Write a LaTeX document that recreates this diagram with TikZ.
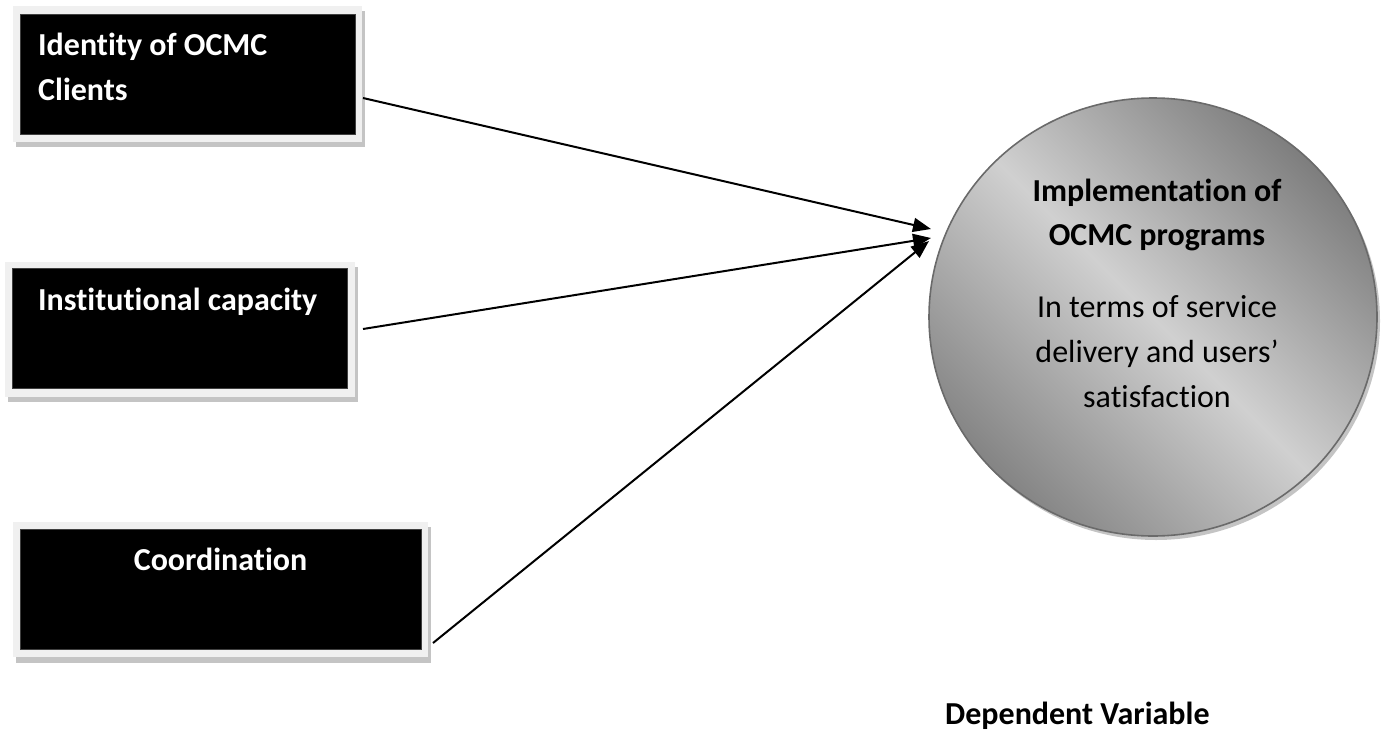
\documentclass[tikz,border=0pt]{standalone}
\usepackage{fontspec}
\setmainfont{Carlito}[Ligatures=NoCommon]
\usetikzlibrary{shapes.geometric,arrows.meta}
\definecolor{frameGray}{HTML}{F0F0F0}
\definecolor{shadowGray}{HTML}{C4C4C4}
\definecolor{darkShade}{HTML}{7E7E7E}
\definecolor{lightShade}{HTML}{D0D0D0}
\definecolor{rimGray}{HTML}{6A6A6A}
\begin{document}
\begin{tikzpicture}[x=1pt,y=-1pt,
  boxtext/.style={text=white,inner sep=0pt,font=\fontsize{32}{38}\selectfont\bfseries},
  blackbox/.style={rectangle,fill=black,draw=black!75,line width=0.6pt,inner sep=0pt},
  circtitle/.style={inner sep=0pt,anchor=base,font=\fontsize{32}{38}\selectfont\bfseries},
  circtext/.style={inner sep=0pt,anchor=base,font=\fontsize{32}{38}\selectfont},
  conn/.style={line width=2pt,-{Triangle[length=18pt,width=14pt]}}
]
\useasboundingbox (0,0) rectangle (1383,731);

% ---- box 1
\fill[shadowGray] (16,11) rectangle (365,147);
\fill[frameGray] (13,6) rectangle (362,142);
\node[blackbox,minimum width=335pt,minimum height=120pt] (b1) at (187.5,74) {};
\node[boxtext,anchor=base west] (l1a) at (38,55) {Identity of OCMC};
\node[boxtext,anchor=base west] (l1b) at (38,100) {Clients};

% ---- box 2
\fill[shadowGray] (8,267) rectangle (358,402);
\fill[frameGray] (5,262) rectangle (355,397);
\node[blackbox,minimum width=335pt,minimum height=120pt] (b2) at (179.5,328) {};
\node[boxtext,anchor=base west] (l2a) at (38,310) {Institutional capacity};

% ---- box 3
\fill[shadowGray] (16,527) rectangle (431,663);
\fill[frameGray] (13,522) rectangle (428,657);
\node[blackbox,minimum width=401pt,minimum height=120pt] (b3) at (220.5,589) {};
\node[boxtext,anchor=base] (l3a) at (220.5,570) {Coordination};

% ---- circle
\fill[shadowGray] (1156,321) ellipse [x radius=224, y radius=219];
\node[ellipse,draw=rimGray,line width=1.6pt,minimum width=448pt,minimum height=438pt,inner sep=0pt,
      top color=darkShade,bottom color=darkShade!95!white,middle color=lightShade,shading angle=-45] (c) at (1153,317) {};
\node[circtitle] (c1) at (1157,201) {Implementation of};
\node[circtitle] (c2) at (1157,245) {OCMC programs};
\node[circtext] (c3) at (1157,317) {In terms of service};
\node[circtext] (c4) at (1157,362) {delivery and users’};
\node[circtext] (c5) at (1157,407) {satisfaction};

\node[inner sep=0pt,anchor=base west,font=\fontsize{32}{38}\selectfont\bfseries] (dv) at (945,724) {Dependent Variable};

% ---- connectors
\coordinate (s1) at (363,98);
\coordinate (s2) at (363,329);
\coordinate (s3) at (433,643);
\coordinate (e1) at (931,229);
\coordinate (e2) at (931,238);
\coordinate (e3) at (929,241);
\draw[conn] (s1) -- (e1);
\draw[conn] (s2) -- (e2);
\draw[conn] (s3) -- (e3);
\end{tikzpicture}
\end{document}
